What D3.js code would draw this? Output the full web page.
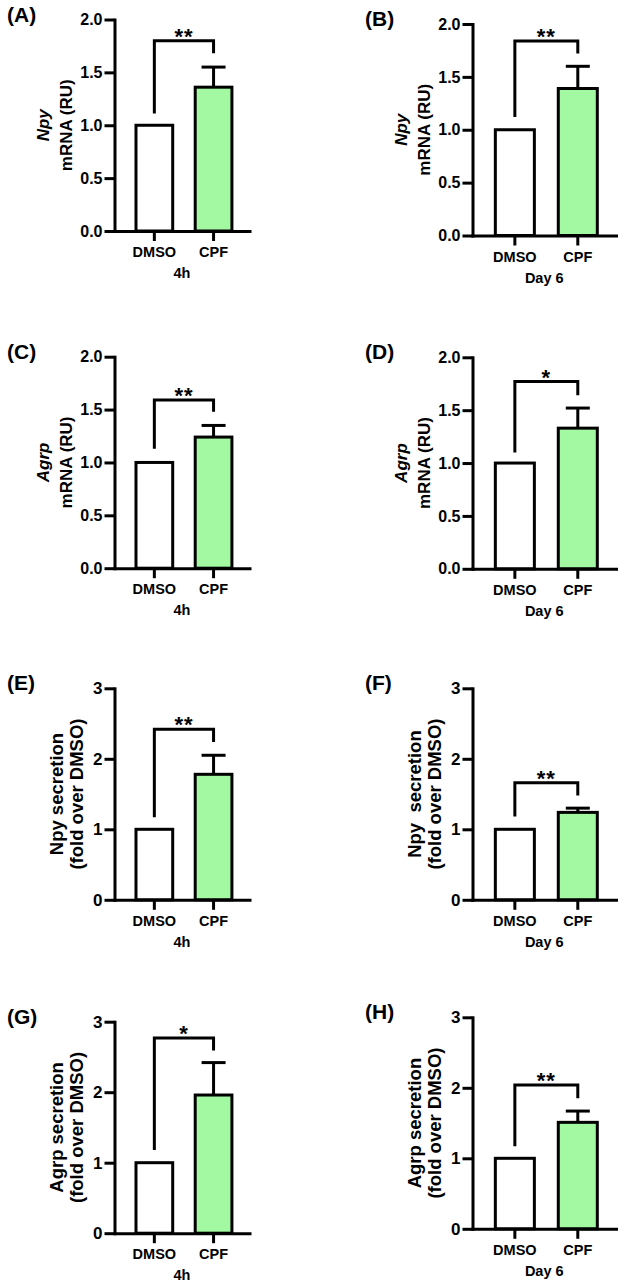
<!DOCTYPE html>
<html>
<head>
<meta charset="utf-8">
<script src="https://cdn.jsdelivr.net/npm/d3@7"></script>
<style>
  body { margin: 0; background: #fff; }
  text { font-family: "Liberation Sans", Arial, sans-serif; font-weight: bold; fill: #000; }
</style>
</head>
<body>
<svg id="fig"></svg>
<script>
// データ
var panelIds = ["A", "B", "C", "D", "E", "F", "G", "H"];
var groups = ["DMSO", "CPF"];
var timeLabels = ["4h", "Day 6", "4h", "Day 6", "4h", "Day 6", "4h", "Day 6"];
var yLabelTop = ["Npy", "Npy", "Agrp", "Agrp", "Npy secretion", "Npy  secretion", "Agrp secretion", "Agrp secretion"];
var yLabelBottom = ["mRNA (RU)", "mRNA (RU)", "mRNA (RU)", "mRNA (RU)",
  "(fold over DMSO)", "(fold over DMSO)", "(fold over DMSO)", "(fold over DMSO)"];
var mrnaTicks = [0, 0.5, 1.0, 1.5, 2.0];
var secretionTicks = [0, 1, 2, 3];
var dmsoMeans = [1, 1, 1, 1, 1, 1, 1, 1];
var cpfMeans = [1.36, 1.39, 1.24, 1.33, 1.78, 1.24, 1.96, 1.51];
var cpfSem = [0.19, 0.21, 0.11, 0.19, 0.27, 0.06, 0.46, 0.16];
var bracketLevel = [1.80, 1.84, 1.59, 1.77, 2.42, 1.66, 2.77, 2.04];
var leftLegEnd = [1.11, 1.12, 1.13, 1.10, 1.17, 1.18, 1.18, 1.17];
var rightLegEnd = [1.68, 1.72, 1.48, 1.64, 2.24, 1.48, 2.59, 1.85];
var stars = ["**", "**", "**", "*", "**", "**", "*", "**"];

// レイアウト
var width = 623, height = 1282;
var plotTops = [19.5, 24, 356.7, 357.3, 688.3, 688.3, 1021.7, 1017.3];
var plotH = 211.5;
var axisXs = [114.5, 472.5];
var axisWs = [135, 143.5];
var green = "#a2f9a2";
var lw = 3;

var svg = d3.select("#fig").attr("width", width).attr("height", height);
svg.append("rect").attr("width", width).attr("height", height).attr("fill", "#fff");

panelIds.forEach(function(id, i) {
  var col = i % 2;
  var isMrna = i < 4;
  var ax = axisXs[col], top = plotTops[i], W = axisWs[col];
  var ticks = isMrna ? mrnaTicks : secretionTicks;

  var g = svg.append("g").attr("transform", "translate(" + ax + "," + top + ")");

  var y = d3.scaleLinear().domain([0, d3.max(ticks)]).range([plotH, 0]);
  var x = d3.scaleBand().domain(groups).range([0, W])
    .paddingInner(0.38).paddingOuter(0.33).align(0.55);

  var vals = [dmsoMeans[i], cpfMeans[i]];

  // バー
  g.selectAll(".bar").data(groups).enter().append("rect")
    .attr("class", "bar")
    .attr("x", function(d) { return x(d); })
    .attr("y", function(d, j) { return y(vals[j]); })
    .attr("width", x.bandwidth())
    .attr("height", function(d, j) { return y(0) - y(vals[j]); })
    .attr("fill", function(d, j) { return j == 0 ? "#fff" : green; })
    .attr("stroke", "#000").attr("stroke-width", lw);

  // エラーバー (上のみ)
  var cx = x("CPF") + x.bandwidth() / 2;
  var eTop = y(cpfMeans[i] + cpfSem[i]);
  g.append("line").attr("x1", cx).attr("x2", cx)
    .attr("y1", y(cpfMeans[i])).attr("y2", eTop)
    .attr("stroke", "#000").attr("stroke-width", lw);
  g.append("line").attr("x1", cx - 12).attr("x2", cx + 12)
    .attr("y1", eTop).attr("y2", eTop)
    .attr("stroke", "#000").attr("stroke-width", lw);

  // 軸
  var yAxis = g.append("g")
    .call(d3.axisLeft(y).tickValues(ticks).tickSize(10).tickSizeOuter(0).tickPadding(2)
      .tickFormat(isMrna ? d3.format(".1f") : d3.format("d")));
  var xAxis = g.append("g").attr("transform", "translate(0," + plotH + ")")
    .call(d3.axisBottom(x).tickSize(10).tickSizeOuter(0).tickPadding(4));
  [yAxis, xAxis].forEach(function(a) {
    a.select(".domain").attr("stroke", "#000").attr("stroke-width", lw).attr("stroke-linecap", "square");
    a.selectAll(".tick line").attr("stroke", "#000").attr("stroke-width", lw);
  });
  yAxis.selectAll(".tick text").style("font-size", isMrna ? "16px" : "17px");
  xAxis.selectAll(".tick text").style("font-size", "14.5px").attr("y", 16);

  // 時間ラベル
  g.append("text").attr("x", W / 2).attr("y", plotH + 47)
    .attr("text-anchor", "middle").style("font-size", "14.5px").text(timeLabels[i]);

  // 有意差ブラケット
  var xL = x("DMSO") + x.bandwidth() / 2;
  var xR = cx;
  g.append("path")
    .attr("d", "M" + xL + "," + y(leftLegEnd[i]) + "V" + y(bracketLevel[i]) +
      "H" + xR + "V" + y(rightLegEnd[i]))
    .attr("fill", "none").attr("stroke", "#000").attr("stroke-width", lw);
  g.append("text").attr("x", (xL + xR) / 2).attr("y", y(bracketLevel[i]) + 3)
    .attr("text-anchor", "middle").style("font-size", "22px").style("letter-spacing", "1px")
    .text(stars[i]);

  // Y軸ラベル
  var lab = g.append("g").attr("transform", "translate(0," + plotH / 2 + ") rotate(-90)");
  lab.append("text").attr("x", 0).attr("y", isMrna ? -66 : -52)
    .attr("text-anchor", "middle")
    .style("font-size", isMrna ? "17px" : "18.5px")
    .style("font-style", isMrna ? "italic" : "normal")
    .style("white-space", "pre")
    .text(yLabelTop[i]);
  lab.append("text").attr("x", 0).attr("y", isMrna ? -43 : -32)
    .attr("text-anchor", "middle")
    .style("font-size", isMrna ? "17px" : "18.5px")
    .text(yLabelBottom[i]);

  // パネル記号
  g.append("text").attr("x", -107.5).attr("y", 2)
    .style("font-size", "21px").text("(" + id + ")");
});
</script>
</body>
</html>
